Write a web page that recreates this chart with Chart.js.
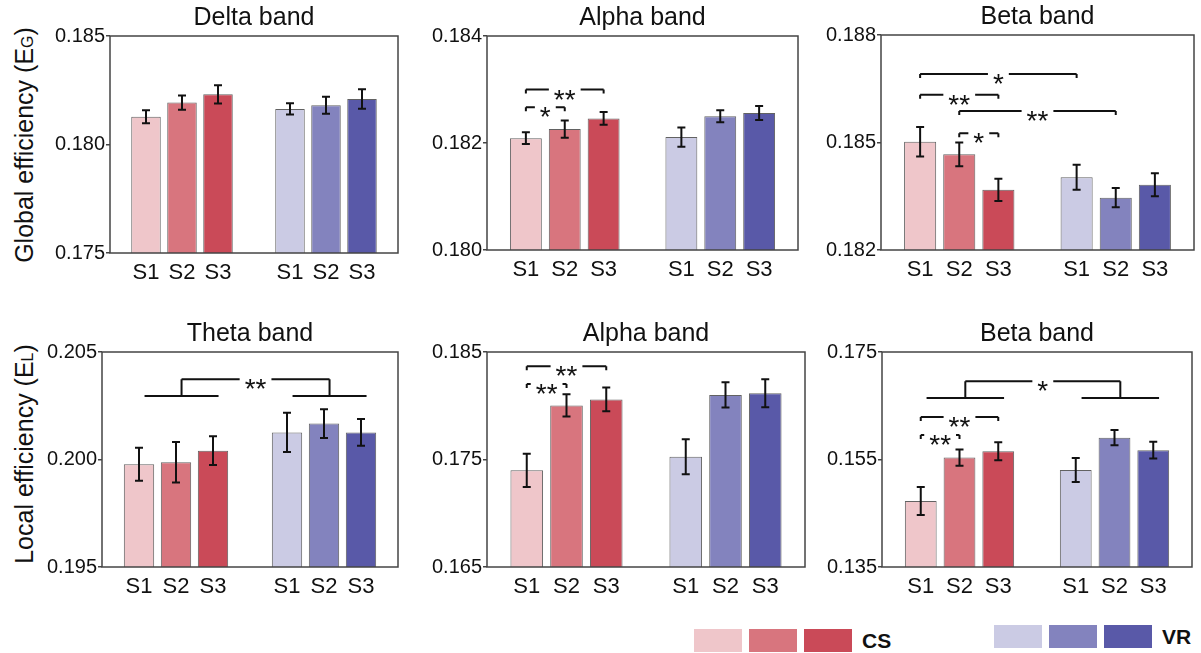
<!DOCTYPE html>
<html lang="en">
<head>
<meta charset="UTF-8">
<title>Global and local efficiency by band</title>
<script src="https://cdn.jsdelivr.net/npm/chart.js"></script>
<style>
  body { margin: 0; background: #fff; font-family: "Liberation Sans", Arial, sans-serif; }
  #page { position: relative; width: 1201px; height: 653px; overflow: hidden; }
  .panel { position: absolute; }
  .ytitle {
    position: absolute; white-space: nowrap; font-size: 25px; color: #111;
    transform: translate(-50%, -50%) rotate(-90deg);
  }
  .ytitle .sub { font-size: 16px; }
  .swatch { position: absolute; height: 23px; width: 48px; }
  .legtext { position: absolute; font-weight: bold; font-size: 21px; color: #111; transform: translateY(-50%); }
</style>
</head>
<body>
<div id="page">
  <div class="ytitle" style="left:24px; top:145px;">Global efficiency (E<span class="sub">G</span>)</div>
  <div class="ytitle" style="left:24px; top:454px;">Local efficiency (E<span class="sub">L</span>)</div>
  <div id="legend"></div>
</div>

<script>
// x slots: CS S1-S3 at 1..3, VR S1-S3 at 5..7, blanks in between
const xLabels = ['', 'S1', 'S2', 'S3', '', 'S1', 'S2', 'S3', ''];
const groups = ['CS', 'VR'];

// means and standard errors, one array per band / measure / group
const deltaGlobalCS = [0.18128, 0.18193, 0.18231];
const deltaGlobalCSErr = [0.00030, 0.00033, 0.00042];
const deltaGlobalVR = [0.18164, 0.18181, 0.18210];
const deltaGlobalVRErr = [0.00026, 0.00039, 0.00045];

const alphaGlobalCS = [0.18209, 0.18226, 0.18246];
const alphaGlobalCSErr = [0.00011, 0.00016, 0.00012];
const alphaGlobalVR = [0.18211, 0.18250, 0.18256];
const alphaGlobalVRErr = [0.00018, 0.00011, 0.00013];

const betaGlobalCS = [0.18502, 0.18467, 0.18368];
const betaGlobalCSErr = [0.00041, 0.00033, 0.00031];
const betaGlobalVR = [0.18403, 0.18346, 0.18382];
const betaGlobalVRErr = [0.00035, 0.00027, 0.00032];

const thetaLocalCS = [0.19978, 0.19987, 0.20041];
const thetaLocalCSErr = [0.00077, 0.00094, 0.00067];
const thetaLocalVR = [0.20126, 0.20167, 0.20126];
const thetaLocalVRErr = [0.00091, 0.00067, 0.00062];

const alphaLocalCS = [0.17399, 0.18003, 0.18059];
const alphaLocalCSErr = [0.00154, 0.00104, 0.00110];
const alphaLocalVR = [0.17525, 0.18101, 0.18116];
const alphaLocalVRErr = [0.00163, 0.00118, 0.00130];

const betaLocalCS = [0.14728, 0.15535, 0.15653];
const betaLocalCSErr = [0.00260, 0.00152, 0.00167];
const betaLocalVR = [0.15305, 0.15906, 0.15674];
const betaLocalVRErr = [0.00223, 0.00143, 0.00155];

// y ranges (min, max); ticks at min, middle, max
const deltaGlobalRange = [0.175, 0.185];
const alphaGlobalRange = [0.180, 0.184];
const betaGlobalRange = [0.182, 0.188];
const thetaLocalRange = [0.195, 0.205];
const alphaLocalRange = [0.165, 0.185];
const betaLocalRange = [0.135, 0.175];

// significance marks: [from slot, to slot, y, label]
const alphaGlobalSig = [[1, 3, 0.18300, '**'], [1, 2, 0.18267, '*']];
const betaGlobalSig = [[1, 5, 0.18691, '*'], [1, 3, 0.18633, '**'], [2, 6, 0.18588, '**'], [2, 3, 0.18526, '*']];
const alphaLocalSig = [[1, 3, 0.18367, '**'], [1, 2, 0.18202, '**']];
const betaLocalSig = [[1, 3, 0.16291, '**'], [1, 2, 0.15956, '**']];
// group-level marks: [low y, high y, label]
const thetaLocalGroupSig = [0.20295, 0.20373, '**'];
const betaLocalGroupSig = [0.16644, 0.16954, '*'];

const csColors = ['#efc6ca', '#d8757e', '#ca4a58'];
const vrColors = ['#cbcbe4', '#8383be', '#5959a8'];

const FONT = '"Liberation Sans", Arial, sans-serif';

const panels = [
  { title: 'Delta band', cs: deltaGlobalCS, csErr: deltaGlobalCSErr, vr: deltaGlobalVR, vrErr: deltaGlobalVRErr,
    range: deltaGlobalRange, sig: [], group: null, box: [110, 36, 401, 253] },
  { title: 'Alpha band', cs: alphaGlobalCS, csErr: alphaGlobalCSErr, vr: alphaGlobalVR, vrErr: alphaGlobalVRErr,
    range: alphaGlobalRange, sig: alphaGlobalSig, group: null, box: [487, 36, 801, 250] },
  { title: 'Beta band', cs: betaGlobalCS, csErr: betaGlobalCSErr, vr: betaGlobalVR, vrErr: betaGlobalVRErr,
    range: betaGlobalRange, sig: betaGlobalSig, group: null, box: [881, 35, 1197, 250] },
  { title: 'Theta band', cs: thetaLocalCS, csErr: thetaLocalCSErr, vr: thetaLocalVR, vrErr: thetaLocalVRErr,
    range: thetaLocalRange, sig: [], group: thetaLocalGroupSig, box: [102, 352, 401, 567] },
  { title: 'Alpha band', cs: alphaLocalCS, csErr: alphaLocalCSErr, vr: alphaLocalVR, vrErr: alphaLocalVRErr,
    range: alphaLocalRange, sig: alphaLocalSig, group: null, box: [487, 352, 808, 567] },
  { title: 'Beta band', cs: betaLocalCS, csErr: betaLocalCSErr, vr: betaLocalVR, vrErr: betaLocalVRErr,
    range: betaLocalRange, sig: betaLocalSig, group: betaLocalGroupSig, box: [882, 352, 1195, 567] }
];

const Y_AXIS_W = 80, TITLE_H = 36, X_AXIS_H = 40, RIGHT_PAD = 4;

// box around the plot area, error bars and significance brackets
const extras = {
  id: 'extras',
  afterDatasetsDraw(chart, args, opts) {
    const ctx = chart.ctx;
    const x = chart.scales.x, y = chart.scales.y;
    const area = chart.chartArea;
    const ds = chart.data.datasets[0];
    const meta = chart.getDatasetMeta(0);

    ctx.save();
    ctx.strokeStyle = '#111';
    ctx.lineWidth = 2;
    meta.data.forEach((bar, i) => {
      const v = ds.data[i], e = ds.errors[i];
      if (v == null || e == null) return;
      const top = y.getPixelForValue(v + e), bot = y.getPixelForValue(v - e);
      ctx.beginPath();
      ctx.moveTo(bar.x, top); ctx.lineTo(bar.x, bot);
      ctx.moveTo(bar.x - 4, top); ctx.lineTo(bar.x + 4, top);
      ctx.moveTo(bar.x - 4, bot); ctx.lineTo(bar.x + 4, bot);
      ctx.stroke();
    });

    ctx.font = '28px ' + FONT;
    ctx.fillStyle = '#111';
    ctx.textAlign = 'center';
    ctx.textBaseline = 'alphabetic';

    const labelled = (x1, x2, py, label) => {
      const w = ctx.measureText(label).width + 10;
      const mid = (x1 + x2) / 2;
      ctx.beginPath();
      ctx.moveTo(x1, py); ctx.lineTo(mid - w / 2, py);
      ctx.moveTo(mid + w / 2, py); ctx.lineTo(x2, py);
      ctx.stroke();
      ctx.fillText(label, mid, py + 19);
    };

    (opts.sig || []).forEach(([a, b, v, label]) => {
      const x1 = x.getPixelForValue(a), x2 = x.getPixelForValue(b), py = y.getPixelForValue(v);
      ctx.beginPath();
      ctx.moveTo(x1, py + 4); ctx.lineTo(x1, py);
      ctx.moveTo(x2, py + 4); ctx.lineTo(x2, py);
      ctx.stroke();
      labelled(x1, x2, py, label);
    });

    if (opts.group) {
      const [lo, hi, label] = opts.group;
      const pLo = y.getPixelForValue(lo), pHi = y.getPixelForValue(hi);
      const shift = 0.15;
      const l1 = x.getPixelForValue(1 + shift), l2 = x.getPixelForValue(3 + shift);
      const r1 = x.getPixelForValue(5 + shift), r2 = x.getPixelForValue(7 + shift);
      const lm = x.getPixelForValue(2 + shift), rm = x.getPixelForValue(6 + shift);
      ctx.beginPath();
      ctx.moveTo(l1, pLo); ctx.lineTo(l2, pLo);
      ctx.moveTo(r1, pLo); ctx.lineTo(r2, pLo);
      ctx.moveTo(lm, pLo); ctx.lineTo(lm, pHi);
      ctx.moveTo(rm, pLo); ctx.lineTo(rm, pHi);
      ctx.stroke();
      labelled(lm, rm, pHi, label);
    }

    ctx.strokeStyle = '#444';
    ctx.lineWidth = 1.5;
    ctx.strokeRect(area.left, area.top, area.right - area.left, area.bottom - area.top);
    ctx.restore();
  }
};

const page = document.getElementById('page');

panels.forEach(p => {
  const [L, T, R, B] = p.box;
  const w = (R - L) + Y_AXIS_W + RIGHT_PAD;
  const h = (B - T) + TITLE_H + X_AXIS_H;
  const div = document.createElement('div');
  div.className = 'panel';
  div.style.left = (L - Y_AXIS_W) + 'px';
  div.style.top = (T - TITLE_H) + 'px';
  div.style.width = w + 'px';
  div.style.height = h + 'px';
  const canvas = document.createElement('canvas');
  div.appendChild(canvas);
  page.appendChild(div);

  const values = [null, ...p.cs, null, ...p.vr, null];
  const errors = [null, ...p.csErr, null, ...p.vrErr, null];
  const colors = ['#fff', ...csColors, '#fff', ...vrColors, '#fff'];
  const [yMin, yMax] = p.range;

  new Chart(canvas, {
    type: 'bar',
    data: {
      labels: xLabels,
      datasets: [{
        data: values,
        errors: errors,
        backgroundColor: colors,
        borderColor: 'rgba(70,70,70,0.85)',
        borderWidth: 1,
        borderSkipped: false,
        categoryPercentage: 1,
        barPercentage: 0.82
      }]
    },
    options: {
      responsive: true,
      maintainAspectRatio: false,
      animation: false,
      events: [],
      layout: { padding: { left: 0, right: RIGHT_PAD, top: 0, bottom: 0 } },
      plugins: {
        legend: { display: false },
        tooltip: { enabled: false },
        title: {
          display: true,
          fullSize: false,
          text: p.title,
          color: '#111',
          font: { family: FONT, size: 25, weight: 'normal', lineHeight: 1.2 },
          padding: { top: 3, bottom: 3 }
        },
        extras: { sig: p.sig, group: p.group }
      },
      scales: {
        x: {
          type: 'category',
          offset: false,
          grid: { display: false, drawTicks: false },
          border: { display: false },
          ticks: { autoSkip: false, maxRotation: 0, padding: 7, color: '#111', font: { family: FONT, size: 22 } },
          afterFit(scale) { scale.height = X_AXIS_H; }
        },
        y: {
          min: yMin,
          max: yMax,
          grid: { display: true, drawOnChartArea: false, drawTicks: true, tickLength: 4, color: '#444', lineWidth: 1.5 },
          border: { display: false },
          ticks: {
            padding: 1,
            color: '#111',
            font: { family: FONT, size: 20 },
            callback: v => v.toFixed(3)
          },
          afterBuildTicks(scale) {
            scale.ticks = [yMin, (yMin + yMax) / 2, yMax].map(v => ({ value: v }));
          },
          afterFit(scale) { scale.width = Y_AXIS_W; }
        }
      }
    },
    plugins: [extras]
  });
});

// group legend along the bottom
const legend = document.getElementById('legend');
[[csColors, 694, 629, 'CS', 862, 641], [vrColors, 994, 625, 'VR', 1162, 637]].forEach(([cols, x0, y0, name, tx, ty]) => {
  cols.forEach((c, i) => {
    const s = document.createElement('div');
    s.className = 'swatch';
    s.style.left = (x0 + i * 55) + 'px';
    s.style.top = y0 + 'px';
    s.style.background = c;
    legend.appendChild(s);
  });
  const t = document.createElement('div');
  t.className = 'legtext';
  t.style.left = tx + 'px';
  t.style.top = ty + 'px';
  t.textContent = name;
  legend.appendChild(t);
});
</script>
</body>
</html>
